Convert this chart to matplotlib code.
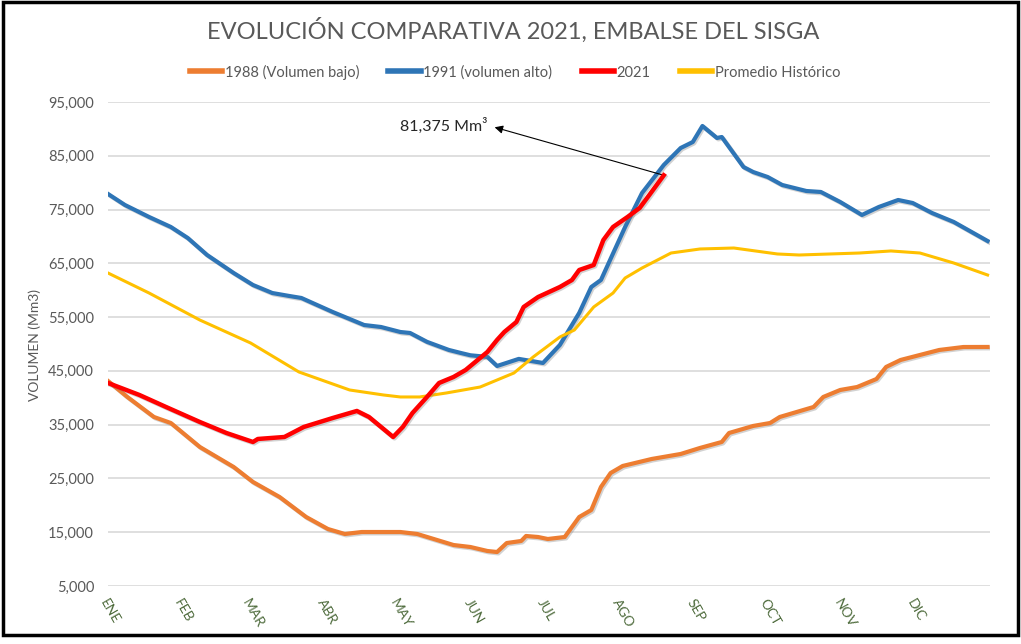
import matplotlib
matplotlib.use("Agg")
import matplotlib.pyplot as plt
from matplotlib.patches import Rectangle
import matplotlib.patheffects as pe

# ---- data (day of year, volume as shown on the axis) ----
months = ["ENE", "FEB", "MAR", "ABR", "MAY", "JUN", "JUL", "AGO", "SEP", "OCT", "NOV", "DIC"]
month_start = [0, 31, 59, 90, 120, 151, 181, 212, 243, 273, 304, 334]
yticks = [5000, 15000, 25000, 35000, 45000, 55000, 65000, 75000, 85000, 95000]

d1991 = [0, 7, 17, 26, 33, 41, 52, 60, 68, 75, 80, 93, 106, 113, 121, 125, 132, 141, 146, 150, 157,
         161, 170, 180, 187, 195, 200, 204, 214, 221, 230, 237, 242, 246, 252, 254, 263, 267, 273,
         279, 289, 295, 303, 312, 319, 327, 333, 341, 350, 364]
v1991 = [77900, 75850, 73620, 71760, 69710, 66550, 63200, 60970, 59480, 58930, 58560, 55950, 53530,
         53160, 52230, 52050, 50400, 48900, 48330, 47900, 47600, 45910, 47230, 46470, 49820, 55770,
         60600, 61900, 71760, 78080, 83290, 86450, 87560, 90540, 88310, 88490, 82910, 81980, 81050,
         79570, 78450, 78270, 76410, 73990, 75480, 76780, 76220, 74360, 72690, 69150]

d1988 = [0, 8, 19, 26, 38, 52, 60, 71, 82, 91, 98, 105, 121, 128, 143, 150, 157, 161, 165, 171, 173,
         178, 182, 189, 195, 200, 204, 208, 213, 225, 237, 245, 254, 257, 267, 274, 278, 292, 296,
         303, 310, 318, 322, 328, 336, 344, 354, 364]
v1988 = [43120, 40150, 36430, 35310, 30850, 27130, 24340, 21550, 17830, 15600, 14670, 15040, 15040,
         14670, 12620, 12250, 11510, 11320, 12990, 13370, 14300, 14110, 13740, 14110, 17830, 19130,
         23410, 26010, 27320, 28620, 29550, 30670, 31780, 33450, 34760, 35310, 36430, 38290, 40150,
         41450, 42000, 43490, 45730, 47030, 47960, 48890, 49440, 49450]

d2021 = [0, 13, 24, 38, 49, 60, 62, 73, 81, 93, 103, 108, 118, 122, 126, 132, 137, 143, 148, 157,
         161, 164, 169, 172, 178, 187, 192, 195, 201, 205, 209, 215, 220, 224, 230]
v2021 = [42750, 40520, 38290, 35500, 33450, 31780, 32340, 32710, 34570, 36240, 37550, 36430, 32710,
         34570, 37170, 40150, 42750, 43870, 45170, 48520, 50750, 52230, 54090, 56880, 58740, 60600,
         61900, 63760, 64690, 69340, 71760, 73620, 75290, 77700, 81375]

dprom = [0, 17, 38, 59, 79, 100, 114, 121, 129, 140, 154, 168, 176, 187, 193, 201, 209, 214, 221,
         233, 245, 259, 277, 286, 311, 324, 336, 350, 364]
vprom = [63200, 59480, 54460, 50190, 44800, 41450, 40520, 40150, 40150, 40890, 42000, 44610, 47600,
         51300, 52600, 56880, 59480, 62270, 64130, 66920, 67670, 67850, 66740, 66550, 66920, 67300,
         66920, 65060, 62830]

labels = ["1988 (Volumen bajo)", "1991 (volumen alto)", "2021", "Promedio Histórico"]
colors = ["#ED7D31", "#2E75B6", "#FF0000", "#FFC000"]
annot_text = "81,375 Mm³"

plt.rcParams["font.family"] = ["Lato", "DejaVu Sans"]

fig = plt.figure(figsize=(10.21, 6.44), dpi=100)
ax = fig.add_axes([108 / 1021, 1 - 586 / 644, 882 / 1021, 484 / 644])

shadow = [pe.SimpleLineShadow(offset=(1, -1), shadow_color="#7f7f7f", alpha=0.35), pe.Normal()]
ax.plot(d1988, v1988, color=colors[0], lw=3.0, label=labels[0], path_effects=shadow, zorder=3)
ax.plot(d1991, v1991, color=colors[1], lw=3.0, label=labels[1], path_effects=shadow, zorder=3)
ax.plot(dprom, vprom, color=colors[3], lw=2.2, label=labels[3], zorder=3)
ax.plot(d2021, v2021, color=colors[2], lw=3.2, label=labels[2], path_effects=shadow, zorder=4)

ax.set_xlim(0, 365)
ax.set_ylim(5000, 95000)
ax.set_yticks(yticks)
ax.set_yticklabels([f"{v:,}" for v in yticks], color="#595959", fontsize=10.5)
ax.set_xticks(month_start)
ax.set_xticklabels(months, rotation=-60, ha="left", va="top", rotation_mode="anchor",
                   color="#4E6B3C", fontsize=10)
ax.tick_params(axis="both", length=0)
ax.tick_params(axis="x", pad=8)
ax.tick_params(axis="y", pad=10)
ax.grid(axis="y", color="#D9D9D9", lw=1.2)
ax.set_axisbelow(True)
for s in ax.spines.values():
    s.set_visible(False)

fig.text(35 / 1021, 1 - 345 / 644, "VOLUMEN (Mm3)", rotation=90, ha="center", va="center",
         color="#595959", fontsize=10)

fig.text(513 / 1021, 1 - 30 / 644, "EVOLUCIÓN COMPARATIVA 2021, EMBALSE DEL SISGA",
         ha="center", va="center", color="#595959", fontsize=17)

# legend (order as in reference)
handles, labs = ax.get_legend_handles_labels()
order = [labs.index(l) for l in labels]
leg = fig.legend([handles[i] for i in order], [labs[i] for i in order], loc="center",
                 bbox_to_anchor=(515 / 1021, 1 - 72 / 644), ncol=4, frameon=False,
                 fontsize=10.5, handlelength=2.2, handletextpad=0.2, columnspacing=2.0)
for t in leg.get_texts():
    t.set_color("#595959")
for h in leg.get_lines():
    h.set_linewidth(4)
    h.set_path_effects([])

# annotation: text plus arrow pointing from the end of 2021 towards the text
ax.text(157, 90540, annot_text, ha="right", va="center", fontsize=11.5, color="#262626")
ax.annotate("", xy=(160, 90300), xytext=(d2021[-1], v2021[-1]),
            arrowprops=dict(arrowstyle="-|>", color="black", lw=0.8, shrinkA=0, shrinkB=0,
                            mutation_scale=12))

# outer frame
fig.patches.append(Rectangle((3 / 1021, 1 - 635 / 644), 1015 / 1021, 633 / 644,
                             transform=fig.transFigure, fill=False, edgecolor="black", lw=2.5))

fig.savefig("out.png", dpi=100, facecolor="white")
